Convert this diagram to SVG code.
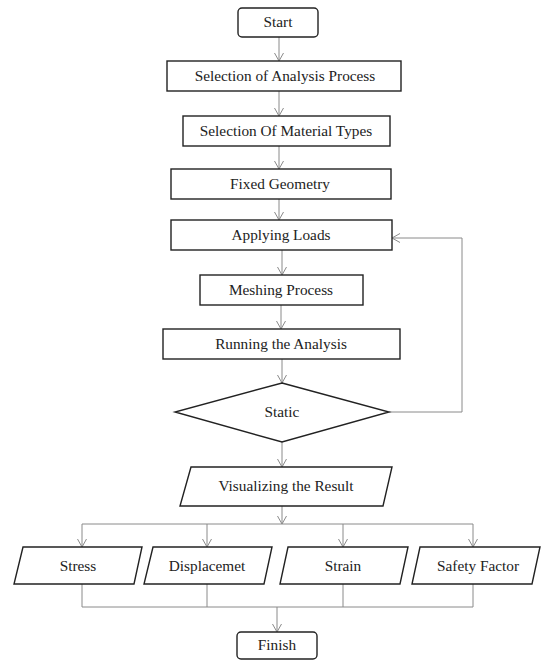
<svg xmlns="http://www.w3.org/2000/svg" width="550" height="661" viewBox="0 0 550 661">
<style>
.n{fill:#fff;stroke:#222;stroke-width:1.4}
.t{font-family:"Liberation Serif","Times New Roman",serif;font-size:15.3px;fill:#222;text-anchor:middle}
.c{fill:none;stroke:#8a8a8a;stroke-width:1}
.a{marker-end:url(#ar)}
</style>
<defs>
<marker id="ar" markerUnits="userSpaceOnUse" markerWidth="12" markerHeight="12" refX="9" refY="6" orient="auto">
<path d="M1,1.5 L9,6 L1,10.5" fill="none" stroke="#8a8a8a" stroke-width="1"/>
</marker>
</defs>
<g id="connectors">
<line class="c a" x1="279" y1="37" x2="279" y2="61"/>
<line class="c a" x1="279" y1="91" x2="279" y2="116"/>
<line class="c a" x1="279" y1="146" x2="279" y2="169"/>
<line class="c a" x1="279" y1="199" x2="279" y2="220"/>
<line class="c a" x1="282" y1="250" x2="282" y2="275"/>
<line class="c a" x1="281" y1="305" x2="281" y2="329"/>
<line class="c a" x1="282" y1="359" x2="282" y2="383"/>
<polyline class="c a" points="389,412 462,412 462,238 392,238"/>
<line class="c a" x1="282" y1="442" x2="282" y2="467"/>
<line class="c a" x1="282" y1="506" x2="282" y2="524"/>
<line class="c" x1="82" y1="524" x2="473" y2="524"/>
<line class="c a" x1="82" y1="524" x2="82" y2="547"/>
<line class="c a" x1="207" y1="524" x2="207" y2="547"/>
<line class="c a" x1="343" y1="524" x2="343" y2="547"/>
<line class="c a" x1="473" y1="524" x2="473" y2="547"/>
<polyline class="c" points="82,584 82,607 473,607 473,584"/>
<line class="c" x1="207" y1="584" x2="207" y2="607"/>
<line class="c" x1="343" y1="584" x2="343" y2="607"/>
<line class="c a" x1="277" y1="607" x2="277" y2="632"/>
</g>
<g id="start"><rect class="n" x="238" y="8" width="80" height="29" rx="4"/><text class="t" x="278" y="27">Start</text></g>
<g id="analysis"><rect class="n" x="167" y="61" width="234" height="30"/><text class="t" x="285" y="81">Selection of Analysis Process</text></g>
<g id="material"><rect class="n" x="183" y="116" width="207" height="30"/><text class="t" x="286" y="136">Selection Of Material Types</text></g>
<g id="fixed"><rect class="n" x="171" y="169" width="220" height="30"/><text class="t" x="280" y="189">Fixed Geometry</text></g>
<g id="loads"><rect class="n" x="171" y="220" width="221" height="30"/><text class="t" x="281" y="240">Applying Loads</text></g>
<g id="meshing"><rect class="n" x="200" y="275" width="163" height="30"/><text class="t" x="281" y="295">Meshing Process</text></g>
<g id="running"><rect class="n" x="163" y="329" width="237" height="30"/><text class="t" x="281" y="349">Running the Analysis</text></g>
<g id="static"><polygon class="n" points="282,383 389,412 282,442 175,412"/><text class="t" x="282" y="417">Static</text></g>
<g id="visualizing"><polygon class="n" points="191,467 392,467 383,506 180,506"/><text class="t" x="286" y="491">Visualizing the Result</text></g>
<g id="stress"><polygon class="n" points="23,547 142,547 134,584 14,584"/><text class="t" x="78" y="571">Stress</text></g>
<g id="displacement"><polygon class="n" points="153,547 272,547 264,584 144,584"/><text class="t" x="207" y="571">Displacemet</text></g>
<g id="strain"><polygon class="n" points="288,547 408,547 400,584 280,584"/><text class="t" x="343" y="571">Strain</text></g>
<g id="safety"><polygon class="n" points="420,547 540,547 532,584 412,584"/><text class="t" x="478" y="571">Safety Factor</text></g>
<g id="finish"><rect class="n" x="237" y="632" width="80" height="27" rx="4"/><text class="t" x="277" y="650">Finish</text></g>
</svg>
